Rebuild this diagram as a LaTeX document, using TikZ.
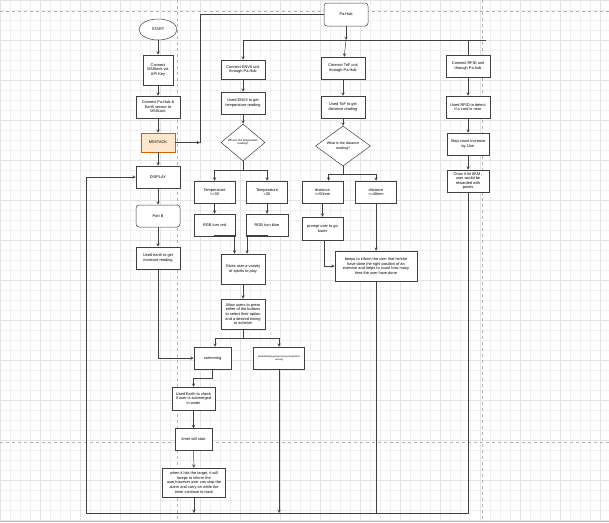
\documentclass[tikz,border=0pt]{standalone}
\usepackage{fontspec}
\setmainfont{Liberation Sans}
\usetikzlibrary{arrows,shapes.geometric}

\begin{document}
\begin{tikzpicture}[x=1pt, y=-1pt, >=stealth,
    gridminor/.style={draw=black!6, line width=0.3pt},
    gridmajor/.style={draw=black!11, line width=0.3pt},
    pageline/.style={draw=black!30, dashed, line width=0.4pt},
    box/.style={draw=black!75, line width=0.5pt, fill=white, align=center, inner sep=0.5pt,
      minimum width=44pt, minimum height=22pt, font=\fontsize{3.9}{4.6}\selectfont},
    rbox/.style={box, rounded corners=3pt},
    decision/.style={box, diamond, aspect=1.2, inner sep=0pt, font=\fontsize{2.8}{3.3}\selectfont},
    terminal/.style={box, ellipse, minimum width=38pt, minimum height=21pt},
    hubbox/.style={box, fill=orange!20, draw=orange!80!black},
    flow/.style={draw=black!75, line width=0.5pt}]
  \useasboundingbox (0,0) rectangle (609,522);
  \fill[white] (0,0) rectangle (609,522);
  \draw[gridminor, step=10pt] (0,0) grid (609,522);
  \draw[gridmajor, step=40pt] (0,0) grid (609,522);
  \draw[pageline] (0,11) -- (609,11);
  \draw[pageline] (0,442) -- (609,442);
  \draw[pageline] (177,0) -- (177,522);
  \draw[pageline] (482,0) -- (482,522);
  \draw[draw=black!25, line width=0.8pt] (0,521) -- (609,521);

  \node[terminal] (start) at (158,29.5) {START};
  \node[box, minimum width=30pt, minimum height=30pt] (apikey) at (158,70) {Connect\\M5Stack via\\API Key};
  \node[box] (sensors) at (158,107) {Connect Pa.Hub \&\\Earth sensor to\\M5Stack};
  \node[hubbox, minimum width=34pt, minimum height=19pt] (mstack) at (158,142.5) {M5STACK};
  \node[box] (display) at (158,177) {DISPLAY};
  \node[rbox] (partb) at (158,216) {Part B};
  \node[box] (moisture) at (158,258) {Used earth to get\\moisture reading};

  \node[rbox, minimum height=23pt] (pahub) at (346,14.5) {Pa.Hub};
  \coordinate (hubjoin) at (200,142.5);
  \coordinate (hubbus) at (346,40);
  \coordinate (busleft) at (243,40);
  \coordinate (busright) at (486,40);
  \coordinate (busrfid) at (468,40);

  \node[box, minimum height=19pt] (envconnect) at (243,69.5) {Connect ENVII unit\\through Pa.Hub};
  \node[box] (envread) at (243,103) {Used ENVII to get\\temperature reading};
  \node[decision, minimum width=44pt, minimum height=37pt] (tempq) at (243,142.5) {What is the temperature\\reading?};
  \coordinate (tempsplit) at (243,170);
  \node[box, minimum width=41pt] (hot) at (214.5,192) {Temperature\\>=30};
  \node[box, minimum width=41pt] (cold) at (267,192) {Temperature\\<30};
  \node[box, minimum width=41pt] (red) at (214.5,225) {RGB turn red};
  \node[box, minimum width=42pt] (blue) at (267,225) {RGB turn blue};
  \node[box, minimum height=30pt] (sports) at (243,269) {Gives user a variety\\of sports to play};
  \node[box, minimum height=30pt] (choose) at (243,314) {Allow users to press\\either of the buttons\\to select their option\\and a desired timing\\to acheive};
  \coordinate (sportsplit) at (243,338);
  \node[box, minimum width=37pt] (swim) at (212.5,358) {swimming};
  \node[box, minimum width=51pt, font=\fontsize{2.4}{3}\selectfont] (others) at (279,358) {Basketball/yoga/exercise/cycling/indoor\\running};
  \node[box, minimum width=43pt, minimum height=23pt] (submerged) at (193.5,398.5) {Used Earth to check\\if user is submerged\\in water};
  \node[box, minimum width=37pt] (timer) at (193.5,439.5) {timer will start};
  \node[box, minimum width=63pt, minimum height=29pt] (target) at (194,482.5) {when it hits the target, it will\\beeps to inform the\\user,however user can stop the\\alarm and carry on while the\\timer continue to track};

  \node[box] (tofconnect) at (343,68) {Connect ToF unit\\through Pa.Hub};
  \node[box] (tofread) at (343,107) {Used ToF to get\\distance reading};
  \node[decision, minimum width=55pt, minimum height=40pt, font=\fontsize{3.6}{4.2}\selectfont] (distq) at (343,146) {What is the distance\\reading?};
  \coordinate (distsplit) at (343,174);
  \node[box, minimum width=41pt] (far) at (322.5,192) {distance\\>=50mm};
  \node[box, minimum width=41pt] (near) at (376,192) {distance\\<=40mm};
  \node[box, minimum width=41pt, minimum height=23pt] (lower) at (322.5,228.5) {prompt user to go\\lower};
  \node[box, minimum width=82pt, minimum height=30pt] (beeps) at (376,266) {beeps to inform the user that he/she\\have done the right position of an\\exercise and helps to count how many\\time the user have done};

  \node[box] (rfidconnect) at (468,66) {Connect RFID unit\\through Pa.hub};
  \node[box] (rfidread) at (468,107) {Used RFID to detect\\if a card is near};
  \node[box, minimum width=42pt] (stepcount) at (468,144) {Step count increase\\by 1km};
  \node[box, minimum width=42pt] (reward) at (468,181) {Once it hit 8KM ,\\user would be\\rewarded with\\points};

  \coordinate (loopleft) at (86,513);

  \draw[flow, ->] (start) -- (apikey);
  \draw[flow, ->] (apikey) -- (sensors);
  \draw[flow, ->] (sensors) -- (mstack);
  \draw[flow, ->] (mstack) -- (display);
  \draw[flow, ->] (display) -- (partb);
  \draw[flow, ->] (partb) -- (moisture);
  \draw[flow, ->] (mstack) -- (hubjoin);
  \draw[flow] (pahub) -| (hubjoin);
  \draw[flow, ->] (pahub) -- (hubbus);
  \draw[flow] (busleft) -- (busright);
  \draw[flow, ->] (busleft) -- (envconnect);
  \draw[flow, ->] (hubbus) -- (tofconnect);
  \draw[flow] (busrfid) -- (rfidconnect);

  \draw[flow, ->] (envconnect) -- (envread);
  \draw[flow, ->] (envread) -- (tempq);
  \draw[flow] (tempq) -- (tempsplit);
  \draw[flow, ->] (tempsplit) -| (hot);
  \draw[flow, ->] (tempsplit) -| (cold);
  \draw[flow, ->] (hot) -- (red);
  \draw[flow, ->] (cold) -- (blue);
  \draw[flow, ->] (red) -- ++(0,10) -| ([xshift=-8.5pt]sports.north);
  \draw[flow, ->] (blue) -- ++(0,10) -| ([xshift=4pt]sports.north);
  \draw[flow, ->] (sports) -- (choose);
  \draw[flow] (choose) -- (sportsplit);
  \draw[flow, ->] (sportsplit) -| ([xshift=2.5pt]swim.north);
  \draw[flow, ->] (sportsplit) -| (others);
  \draw[flow, ->] (moisture) |- (swim);
  \draw[flow, ->] (swim.south) -- ++(0,9) -| (submerged.north);
  \draw[flow, ->] (submerged) -- (timer);
  \draw[flow, ->] (timer) -- (target);

  \draw[flow, ->] (tofconnect) -- (tofread);
  \draw[flow, ->] (tofread) -- (distq);
  \draw[flow] (distq) -- (distsplit);
  \draw[flow, ->] (distsplit) -| ([xshift=6pt]far.north);
  \draw[flow, ->] (distsplit) -| (near);
  \draw[flow, ->] (far) -- (lower);
  \draw[flow, ->] (near) -- (beeps);
  \draw[flow, ->] ([xshift=1.5pt]lower.south) |- (beeps);

  \draw[flow, ->] (rfidconnect) -- (rfidread);
  \draw[flow, ->] (rfidread) -- (stepcount);
  \draw[flow, ->] (stepcount) -- (reward);

  \draw[flow, ->] (reward) |- (loopleft) |- (display);
  \draw[flow, ->] (target) -- (target |- loopleft);
  \draw[flow, ->] (others) -- (others |- loopleft);
  \draw[flow] (beeps) -- (beeps |- loopleft);
\end{tikzpicture}
\end{document}
